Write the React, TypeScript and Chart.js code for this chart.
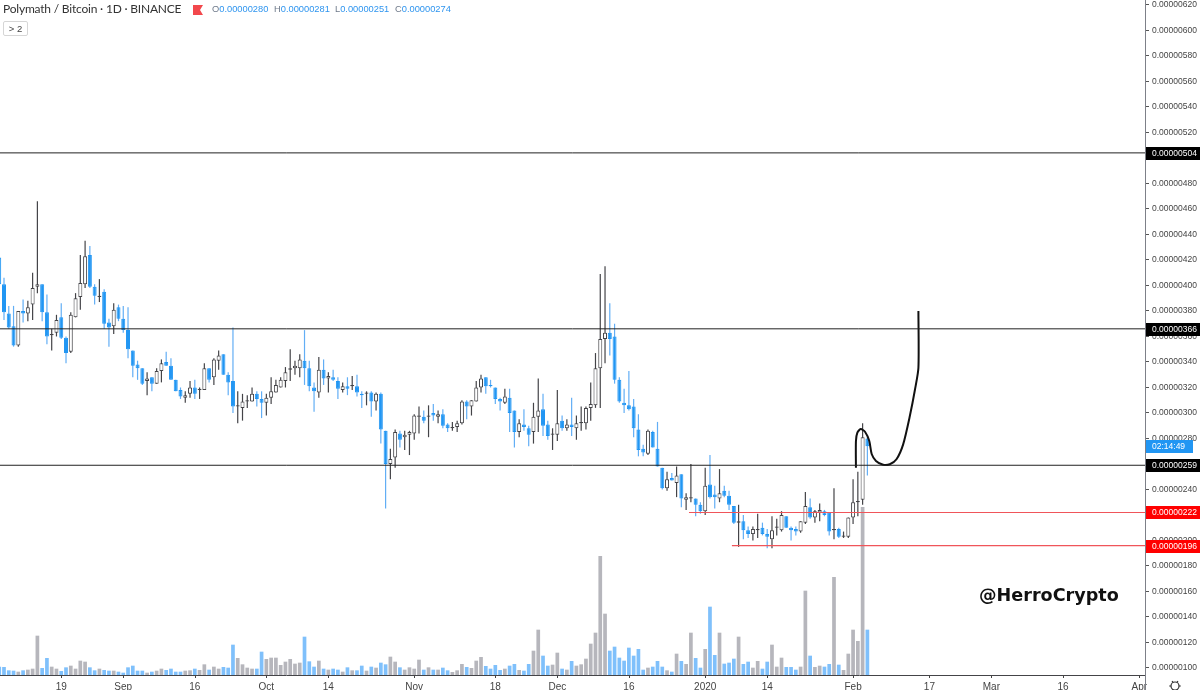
import React, { useEffect, useRef } from "react";
import { Chart, registerables } from "chart.js";

Chart.register(...registerables);

// Daily candles, 2019-08-06 .. 2020-02-04, in units of 0.00000001 BTC
const opens = [422,401,378,368,353,380,378,385,399,401,379,361,363,375,359,348,375,391,401,424,399,391,395,371,368,383,374,365,349,338,335,325,328,323,333,340,337,326,318,312,315,320,318,318,335,328,341,346,330,325,305,304,309,309,315,311,308,312,316,320,325,334,335,335,
341,335,320,316,334,327,328,325,318,321,321,321,315,315,316,309,315,286,260,265,284,281,283,284,297,297,297,300,297,299,291,288,289,292,309,305,309,320,328,322,320,311,308,312,302,285,291,288,285,297,303,291,283,283,294,288,291,288,292,292,304,306,335,358,363,
360,326,308,306,305,287,272,268,285,272,257,241,249,245,252,232,233,233,228,223,244,236,233,239,235,227,214,215,208,205,208,210,205,201,210,208,219,210,209,207,214,226,218,222,223,222,208,209,203,203,218,230,232,280];
const highs = [422,406,384,384,380,389,388,410,466,401,393,366,377,386,360,379,394,424,435,431,401,405,397,374,386,385,384,383,349,341,335,332,328,335,342,348,343,326,320,317,325,326,320,339,335,343,349,346,332,367,317,315,314,320,317,317,315,328,326,328,336,350,341,346,
365,341,324,344,342,332,334,328,324,328,329,330,317,317,317,316,316,286,272,287,286,286,286,299,305,302,306,307,302,303,292,293,294,310,310,310,325,330,328,326,320,312,319,319,302,295,303,290,308,327,315,294,288,318,298,295,312,298,305,305,324,347,409,415,386,
370,328,319,333,311,299,275,287,286,293,257,254,253,258,252,237,260,233,230,257,267,243,256,243,239,227,228,220,211,211,221,214,209,219,217,223,219,211,211,215,238,233,224,229,224,222,241,210,207,218,248,254,292,281];
const lows = [400,373,366,352,352,371,372,373,394,372,354,349,360,358,339,347,375,381,398,398,385,387,366,352,362,372,363,343,328,326,322,314,317,323,324,337,326,317,311,308,312,311,311,318,324,322,334,330,314,300,292,294,304,309,305,296,298,307,316,320,320,325,330,328,
322,317,301,312,322,316,325,311,316,314,318,313,304,306,297,302,276,225,248,257,273,271,267,279,284,292,281,294,292,288,285,286,285,291,295,298,309,316,315,320,307,302,307,285,273,281,286,274,276,285,282,279,271,278,286,286,282,279,286,287,294,304,304,339,345,
323,308,300,302,281,266,266,267,273,258,240,239,247,234,226,224,230,219,221,220,233,225,230,234,224,213,195,201,202,200,202,204,194,194,204,207,210,200,204,206,213,217,214,215,219,204,201,202,202,202,213,219,228,251];
const closes = [401,379,367,353,380,378,383,398,401,379,360,362,373,359,347,377,390,402,423,399,392,392,370,367,381,374,365,350,337,335,323,327,323,333,339,337,326,317,313,314,320,315,319,335,326,342,345,330,324,305,306,309,310,315,311,308,312,317,322,326,332,335,337,342,
335,321,317,334,327,329,326,319,321,319,322,316,314,316,309,315,287,260,264,285,279,283,285,298,298,294,298,298,299,290,288,289,292,309,305,310,320,327,321,321,311,309,313,300,285,292,289,283,297,302,290,282,284,292,288,291,289,292,293,304,307,335,358,363,358,
326,309,306,303,288,271,269,286,273,258,241,248,247,251,233,234,234,228,223,243,234,234,237,235,228,214,215,208,205,209,209,205,203,208,211,220,210,208,207,215,227,218,223,224,220,207,209,203,204,218,230,231,281,274];

// Volume of each day, in arbitrary units
const volumes = [25,24,14,13,10,14,16,19,118,21,51,25,19,12,23,28,19,43,40,23,14,19,15,13,13,10,7,23,28,13,13,7,10,13,19,15,19,10,10,13,14,19,15,32,16,25,19,24,22,91,51,32,22,19,19,70,48,52,52,30,40,48,34,37,115,41,25,43,19,16,19,16,10,23,14,14,28,13,25,22,37,32,55,40,23,16,23,19,46,16,23,16,16,22,14,
9,14,33,24,21,43,54,27,19,30,15,19,28,33,15,13,33,73,136,58,28,31,67,19,16,42,28,32,49,94,127,357,184,73,85,52,43,82,58,78,16,22,25,42,25,14,10,64,42,33,127,51,22,78,205,60,127,34,37,49,115,33,40,22,42,19,40,91,25,52,24,24,16,25,253,58,24,28,25,33,294,31,15,64,136,102,504,136];

// Horizontal levels the author drew
const blackLevels = [504, 366, 259];
const redLevels = [222, 196];
const redLevelStarts = [144.6, 153.6];

// Hand-drawn projection curve (day index, price)
const sketchDays = [179.6,179.6,179.9,180.6,181.5,182.4,182.9,183.8,185.3,186.7,188.1,189.5,190.9,192,192.7,192.7];
const sketchPrices = [257,278,284.5,287.4,285.3,278,267.8,262.4,259.4,259.8,263.7,275.4,297.6,318.8,335.5,380];

// Axis ticks
const priceTicks = [100,120,140,160,180,200,220,240,260,280,300,320,340,360,380,400,420,440,460,480,500,520,540,560,580,600,620];
const dateTickDays = [13,26,41,56,69,87,104,117,132,148,161,179,195,208,223,239];
const dateTickLabels = ["19","Sep","16","Oct","14","Nov","18","Dec","16","2020","14","Feb","17","Mar","16","Apr"];

const FONT = "'Liberation Sans', sans-serif";
const UP_LINE = "#444448";
const DOWN = "#2196f3";
const DOWN_WICK = "#62aef5";
const VOL_UP = "#b6b6bc";
const VOL_DOWN = "#7fc0fb";
const AXIS = "#7d8088";

const fmt = (v: number) => "0." + String(Math.round(v)).padStart(8, "0");

const X_MIN = 0.161;
const X_MAX = 240.2;

const tagsPlugin = {
  id: "tags",
  afterDraw(chart: any) {
    const { ctx } = chart;
    const y = chart.scales.y;
    const xs = chart.scales.x;
    const x0 = chart.chartArea.right;
    ctx.save();
    ctx.strokeStyle = AXIS;
    ctx.lineWidth = 1;
    ctx.beginPath();
    ctx.moveTo(x0 + 0.5, 675);
    ctx.lineTo(x0 + 0.5, 690);
    ctx.stroke();
    ctx.strokeStyle = "#444";
    dateTickDays.forEach((d) => {
      const px = Math.round(xs.getPixelForValue(d)) + 0.5;
      ctx.beginPath();
      ctx.moveTo(px, 675);
      ctx.lineTo(px, 678);
      ctx.stroke();
    });
    const tag = (value: number, text: string, bg: string, w: number) => {
      const py = Math.round(y.getPixelForValue(value));
      ctx.fillStyle = bg;
      ctx.fillRect(x0 + 1, py - 6, w, 13);
      ctx.fillStyle = "#ffffff";
      ctx.font = `8.5px ${FONT}`;
      ctx.textBaseline = "middle";
      ctx.textAlign = "left";
      ctx.fillText(text, x0 + 7, py + 0.5);
    };
    tag(274, "02:14:49", "#2196f3", 47);
    blackLevels.forEach((v) => tag(v, fmt(v), "#000000", 54));
    redLevels.forEach((v) => tag(v, fmt(v), "#ff0000", 54));
    // settings gear
    ctx.strokeStyle = "#333333";
    ctx.lineWidth = 1.2;
    ctx.beginPath();
    ctx.arc(1175, 686, 4, 0, Math.PI * 2);
    ctx.stroke();
    for (let a = 0; a < 6; a++) {
      const t = (a * Math.PI) / 3;
      ctx.beginPath();
      ctx.moveTo(1175 + 4 * Math.cos(t), 686 + 4 * Math.sin(t));
      ctx.lineTo(1175 + 5.8 * Math.cos(t), 686 + 5.8 * Math.sin(t));
      ctx.stroke();
    }
    ctx.restore();
  },
};

export default function App() {
  const ref = useRef<HTMLCanvasElement>(null);
  useEffect(() => {
    document.body.style.margin = "0";
    const isUp = (i: number) => closes[i] >= opens[i];
    const barBase = { type: "bar" as const, grouped: false, borderSkipped: false, inflateAmount: 0 };
    const levelLines = [
      ...blackLevels.map((v) => ({
        type: "line" as const,
        data: [{ x: X_MIN, y: v }, { x: X_MAX, y: v }],
        borderColor: "#222222",
        borderWidth: 1,
        pointRadius: 0,
        order: 0,
      })),
      ...redLevels.map((v, i) => ({
        type: "line" as const,
        data: [{ x: redLevelStarts[i], y: v }, { x: X_MAX, y: v }],
        borderColor: "#f0555a",
        borderWidth: 1.1,
        pointRadius: 0,
        order: 0,
      })),
    ];
    const chart = new Chart(ref.current!, {
      type: "bar",
      plugins: [tagsPlugin],
      data: {
        datasets: [
          ...levelLines,
          {
            type: "line",
            data: sketchDays.map((d, i) => ({ x: d, y: sketchPrices[i] })),
            borderColor: "#111111",
            borderWidth: 2,
            pointRadius: 0,
            tension: 0.25,
            order: 0,
          },
          {
            ...barBase,
            data: opens.map((o, i) => ({ x: i, y: [o, closes[i]] })),
            backgroundColor: opens.map((_, i) => (isUp(i) ? "#ffffff" : DOWN)),
            borderColor: opens.map((_, i) => (isUp(i) ? UP_LINE : DOWN)),
            borderWidth: 1,
            barThickness: 4,
            order: 1,
          },
          {
            ...barBase,
            data: opens.map((_, i) => ({ x: i, y: [lows[i], highs[i]] })),
            backgroundColor: opens.map((_, i) => (isUp(i) ? UP_LINE : DOWN_WICK)),
            borderWidth: 0,
            barThickness: 1.2,
            order: 2,
          },
          {
            ...barBase,
            yAxisID: "vol",
            data: volumes.map((v, i) => ({ x: i, y: v })),
            backgroundColor: volumes.map((_, i) => (isUp(i) ? VOL_UP : VOL_DOWN)),
            borderWidth: 0,
            barThickness: 3.7,
            order: 3,
          },
        ] as any,
      },
      options: {
        responsive: false,
        animation: false,
        events: [],
        layout: { padding: 0 },
        plugins: { legend: { display: false }, tooltip: { enabled: false } },
        scales: {
          x: {
            type: "linear",
            min: X_MIN,
            max: X_MAX,
            offset: false,
            afterBuildTicks: (s: any) => {
              s.ticks = dateTickDays.map((value) => ({ value }));
            },
            afterFit: (s: any) => {
              s.height = 15;
              s.paddingLeft = 0;
              s.paddingRight = 0;
            },
            grid: { drawOnChartArea: false, drawTicks: false },
            border: { color: "#444448", width: 1 },
            ticks: {
              autoSkip: false,
              maxRotation: 0,
              padding: 6,
              color: "#444",
              font: { family: FONT, size: 10 },
              callback: (v: any) => {
                const i = dateTickDays.indexOf(v);
                return i >= 0 ? dateTickLabels[i] : "";
              },
            },
          },
          y: {
            type: "linear",
            position: "right",
            min: 94.5,
            max: 623.9,
            afterBuildTicks: (s: any) => {
              s.ticks = priceTicks.map((value) => ({ value }));
            },
            afterFit: (s: any) => {
              s.width = 55;
              s.paddingTop = 0;
              s.paddingBottom = 0;
            },
            grid: { drawOnChartArea: false, drawTicks: true, tickLength: 4, tickColor: "#555" },
            border: { color: AXIS, width: 1 },
            ticks: {
              autoSkip: false,
              padding: 3,
              color: "#444",
              font: { family: FONT, size: 8.5 },
              callback: (v: any) => fmt(v),
            },
          },
          vol: { type: "linear", display: false, min: 0, max: 2025 },
        },
      } as any,
    });
    return () => chart.destroy();
  }, []);

  const val: React.CSSProperties = { color: "#2f95ef" };
  const lab: React.CSSProperties = { color: "#6f7a8a" };
  const ohlc = [
    ["O", "0.00000280", 212],
    ["H", "0.00000281", 274],
    ["L", "0.00000251", 335],
    ["C", "0.00000274", 395],
  ] as const;
  return (
    <div style={{ position: "fixed", left: 0, top: 0, width: 1200, height: 690, overflow: "hidden", background: "#fff" }}>
      <canvas ref={ref} width={1200} height={690} style={{ position: "absolute", left: 0, top: 0 }} />
      <div style={{ position: "absolute", left: 3, top: 1, font: `12px Lato, sans-serif`, letterSpacing: "-0.2px", color: "#333", whiteSpace: "nowrap" }}>
        Polymath / Bitcoin · 1D · BINANCE
      </div>
      <svg width={10} height={10} style={{ position: "absolute", left: 193, top: 5 }}>
        <path d="M0 0H10L7 5L10 10H0Z" fill="#f2484c" />
      </svg>
      {ohlc.map(([l, v, x]) => (
        <div key={l} style={{ position: "absolute", left: x, top: 4, font: `9.3px ${FONT}`, whiteSpace: "nowrap" }}>
          <span style={lab}>{l}</span>
          <span style={val}>{v}</span>
        </div>
      ))}
      <div style={{ position: "absolute", left: 3, top: 21, width: 23, height: 13, border: "1px solid #d6d6d6", borderRadius: 2, font: `9.5px ${FONT}`, color: "#444", textAlign: "center", lineHeight: "13px" }}>
        {"> 2"}
      </div>
      <div style={{ position: "absolute", left: 979, top: 585, font: `bold 17.6px 'DejaVu Sans', sans-serif`, color: "#111", whiteSpace: "nowrap" }}>
        @HerroCrypto
      </div>
    </div>
  );
}
